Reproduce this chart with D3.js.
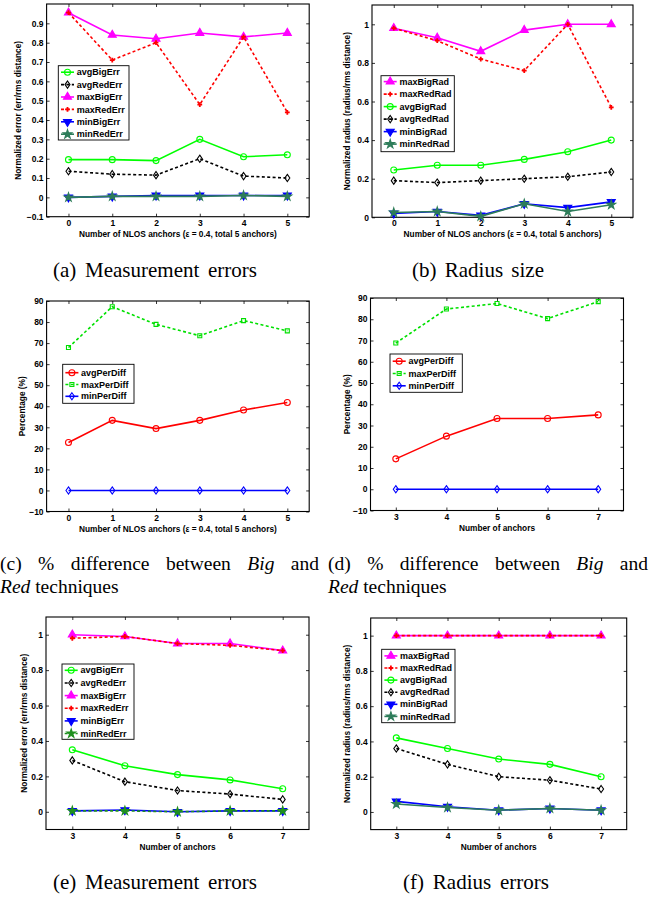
<!DOCTYPE html>
<html>
<head>
<meta charset="utf-8">
<script src="https://cdn.jsdelivr.net/npm/d3@7"></script>
<style>
  body { margin: 0; background: #fff; }
  svg { display: block; }
</style>
</head>
<body>
<div id="container"></div>
<script>
/* DATA */
const xNlos = [0, 1, 2, 3, 4, 5];
const xAnchors = [3, 4, 5, 6, 7];

// (a) measurement errors vs NLOS anchors
const aAvgBigErr = [0.195, 0.195, 0.19, 0.30, 0.21, 0.22];
const aAvgRedErr = [0.135, 0.12, 0.115, 0.20, 0.11, 0.10];
const aMaxBigErr = [0.955, 0.84, 0.82, 0.85, 0.83, 0.85];
const aMaxRedErr = [0.955, 0.71, 0.80, 0.48, 0.83, 0.44];
const aMinBigErr = [0.0, 0.005, 0.01, 0.01, 0.01, 0.01];
const aMinRedErr = [0.0, 0.005, 0.005, 0.005, 0.01, 0.005];

// (b) radius size vs NLOS anchors
const bMaxBigRad = [0.98, 0.93, 0.86, 0.97, 1.0, 1.0];
const bMaxRedRad = [0.98, 0.915, 0.82, 0.76, 1.0, 0.57];
const bAvgBigRad = [0.245, 0.27, 0.27, 0.30, 0.34, 0.40];
const bAvgRedRad = [0.19, 0.18, 0.19, 0.20, 0.21, 0.235];
const bMinBigRad = [0.02, 0.03, 0.01, 0.07, 0.05, 0.08];
const bMinRedRad = [0.025, 0.03, 0.005, 0.07, 0.03, 0.065];

// (c) % difference vs NLOS anchors
const cAvgPerDiff = [22.8, 33.3, 29.4, 33.3, 38.2, 41.8];
const cMaxPerDiff = [67.9, 87.3, 78.9, 73.5, 80.7, 75.8];
const cMinPerDiff = [0, 0, 0, 0, 0, 0];

// (d) % difference vs number of anchors
const dAvgPerDiff = [14.3, 25, 33.3, 33.3, 35];
const dMaxPerDiff = [68.8, 84.8, 87.4, 80.3, 88.3];
const dMinPerDiff = [0, 0, 0, 0, 0];

// (e) measurement errors vs number of anchors
const eAvgBigErr = [0.35, 0.26, 0.21, 0.18, 0.13];
const eAvgRedErr = [0.29, 0.17, 0.12, 0.10, 0.07];
const eMaxBigErr = [1.0, 0.99, 0.95, 0.95, 0.91];
const eMaxRedErr = [0.98, 0.99, 0.95, 0.94, 0.91];
const eMinBigErr = [0.005, 0.01, 0.0, 0.005, 0.005];
const eMinRedErr = [0.005, 0.005, 0.0, 0.005, 0.005];

// (f) radius errors vs number of anchors
const fMaxBigRad = [1, 1, 1, 1, 1];
const fMaxRedRad = [1, 1, 1, 1, 1];
const fAvgBigRad = [0.42, 0.36, 0.30, 0.27, 0.20];
const fAvgRedRad = [0.36, 0.27, 0.20, 0.18, 0.13];
const fMinBigRad = [0.06, 0.03, 0.01, 0.02, 0.01];
const fMinRedRad = [0.045, 0.025, 0.01, 0.02, 0.01];

// tick values
const ticksErrA = [-0.1, 0, 0.1, 0.2, 0.3, 0.4, 0.5, 0.6, 0.7, 0.8, 0.9];
const ticksUnit = [0, 0.2, 0.4, 0.6, 0.8, 1];
const ticksPct = [-10, 0, 10, 20, 30, 40, 50, 60, 70, 80, 90];

const xLabelNlos = "Number of NLOS anchors (\u03b5 = 0.4, total 5 anchors)";
const xLabelAnchors = "Number of anchors";
const yLabelErr = "Normalized error (err/rms distance)";
const yLabelRad = "Normalized radius (radius/rms distance)";
const yLabelPct = "Percentage (%)";

/* STYLE */
const GREEN = "#00ff00", BLACK = "#000", MAGENTA = "#ff00ff", RED = "#ff0000",
  BLUE = "#0000ff", TEAL = "#2e7d5a", DKGREEN = "#1f8f1f", PGREEN = "#00e000";
const DOT = "3,2.4";
const FONT = "Liberation Sans, Arial, Helvetica, sans-serif";
const SERIF = "Liberation Serif, Times New Roman, serif";

const svg = d3.select("#container")
  .append("svg")
  .attr("width", 651)
  .attr("height", 897)
  .style("background-color", "#fff");

const fmt = d => (d < 0 ? "\u2212" : "") + String(+Math.abs(d).toFixed(2));

function markerPath(type) {
  switch (type) {
    case "circle": return d3.symbol(d3.symbolCircle, 28)();
    case "diamond": return "M0,-3.6L2.5,0L0,3.6L-2.5,0Z";
    case "triUp": return d3.symbol(d3.symbolTriangle, 28)();
    case "triDown": return d3.symbol(d3.symbolTriangle, 28)();
    case "star": return d3.symbol(d3.symbolStar, 24)();
    case "plus": return "M-2.4,0H2.4M0,-2.4V2.4";
    case "square": return d3.symbol(d3.symbolSquare, 16)();
  }
}
const filledMarkers = ["triUp", "triDown", "star"];

function drawMarker(g, type, color, cx, cy) {
  g.append("path")
    .attr("d", markerPath(type))
    .attr("transform", `translate(${cx},${cy})` + (type === "triDown" ? " rotate(180)" : ""))
    .attr("fill", filledMarkers.includes(type) ? color : "none")
    .attr("stroke", color)
    .attr("stroke-width", type === "plus" ? 1.8 : 1.1);
}

function drawPanel(p) {
  const g = svg.append("g");
  const x = d3.scaleLinear().domain(p.xDomain).range([p.box.l, p.box.r]);
  const y = d3.scaleLinear().domain(p.yDomain).range([p.box.b, p.box.t]);

  // AXES (ticks point inward, MATLAB style box)
  const axB = g.append("g").attr("transform", `translate(0,${p.box.b})`)
    .call(d3.axisBottom(x).tickValues(p.xTicks).tickSize(-3).tickPadding(3).tickFormat(d3.format("d")));
  const axL = g.append("g").attr("transform", `translate(${p.box.l},0)`)
    .call(d3.axisLeft(y).tickValues(p.yTicks).tickSize(-3).tickPadding(3).tickFormat(fmt));
  const axT = g.append("g").attr("transform", `translate(0,${p.box.t})`)
    .call(d3.axisTop(x).tickValues(p.xTicks).tickSize(-3).tickFormat(""));
  const axR = g.append("g").attr("transform", `translate(${p.box.r},0)`)
    .call(d3.axisRight(y).tickValues(p.yTicks).tickSize(-3).tickFormat(""));
  [axB, axL, axT, axR].forEach(a => {
    a.select(".domain").remove();
    a.attr("font-family", FONT).attr("font-size", 8.5).attr("font-weight", "bold");
    a.selectAll("line").attr("stroke", "#000").attr("stroke-width", 0.8);
    a.selectAll("text").attr("fill", "#000");
  });

  g.append("rect")
    .attr("x", p.box.l).attr("y", p.box.t)
    .attr("width", p.box.r - p.box.l).attr("height", p.box.b - p.box.t)
    .attr("fill", "none").attr("stroke", "#000").attr("stroke-width", 1.1);

  // AXIS LABELS
  g.append("text")
    .attr("x", (p.box.l + p.box.r) / 2).attr("y", p.box.b + 20)
    .attr("text-anchor", "middle")
    .attr("font-family", FONT).attr("font-size", 8.3).attr("font-weight", "bold")
    .text(p.xLabel);
  g.append("text")
    .attr("transform", `translate(${p.yLabelX},${(p.box.t + p.box.b) / 2}) rotate(-90)`)
    .attr("text-anchor", "middle").attr("dy", "0.35em")
    .attr("font-family", FONT).attr("font-size", 8.3).attr("font-weight", "bold")
    .text(p.yLabel);

  // LINES AND MARKERS
  p.series.forEach(s => {
    const lineGen = d3.line().x((d, i) => x(p.xs[i])).y(d => y(d));
    g.append("path")
      .attr("d", lineGen(s.values))
      .attr("fill", "none")
      .attr("stroke", s.color)
      .attr("stroke-width", 1.6)
      .attr("stroke-dasharray", s.dash ? DOT : null);
    s.values.forEach((v, i) => drawMarker(g, s.marker, s.color, x(p.xs[i]), y(v)));
  });

  // LEGEND
  const L = p.legend;
  const lg = g.append("g");
  lg.append("rect")
    .attr("x", L.x).attr("y", L.y).attr("width", L.w).attr("height", L.h)
    .attr("fill", "#fff").attr("stroke", "#000").attr("stroke-width", 0.9);
  p.series.forEach((s, i) => {
    const ry = L.row0 + i * L.step;
    lg.append("line")
      .attr("x1", L.x + 2.7).attr("x2", L.x + 15.7).attr("y1", ry).attr("y2", ry)
      .attr("stroke", s.color).attr("stroke-width", 1.6)
      .attr("stroke-dasharray", s.dash ? DOT : null);
    drawMarker(lg, s.marker, s.color, L.x + 9.2, ry);
    lg.append("text")
      .attr("x", L.x + 18.4).attr("y", ry).attr("dy", "0.35em")
      .attr("font-family", FONT).attr("font-size", 9).attr("font-weight", "bold")
      .text(s.name);
  });
}

/* PANELS */
drawPanel({
  box: {l: 46.6, r: 309.2, t: 4, b: 216.7},
  xDomain: [-0.5, 5.5], yDomain: [-0.1, 1.0], xs: xNlos,
  xTicks: xNlos, yTicks: ticksErrA,
  xLabel: xLabelNlos, yLabel: yLabelErr, yLabelX: 18.5,
  legend: {x: 58.3, y: 65.7, w: 70.7, h: 74.3, row0: 72.2, step: 12.4},
  series: [
    {name: "avgBigErr", values: aAvgBigErr, color: GREEN, marker: "circle"},
    {name: "avgRedErr", values: aAvgRedErr, color: BLACK, marker: "diamond", dash: true},
    {name: "maxBigErr", values: aMaxBigErr, color: MAGENTA, marker: "triUp"},
    {name: "maxRedErr", values: aMaxRedErr, color: RED, marker: "plus", dash: true},
    {name: "minBigErr", values: aMinBigErr, color: BLUE, marker: "triDown"},
    {name: "minRedErr", values: aMinRedErr, color: TEAL, marker: "star"}
  ]
});

drawPanel({
  box: {l: 372, r: 633, t: 5, b: 217.3},
  xDomain: [-0.5, 5.5], yDomain: [0, 1.1], xs: xNlos,
  xTicks: xNlos, yTicks: ticksUnit,
  xLabel: xLabelNlos, yLabel: yLabelRad, yLabelX: 346.7,
  legend: {x: 381, y: 75.7, w: 73.3, h: 76, row0: 81.6, step: 12.5},
  series: [
    {name: "maxBigRad", values: bMaxBigRad, color: MAGENTA, marker: "triUp"},
    {name: "maxRedRad", values: bMaxRedRad, color: RED, marker: "plus", dash: true},
    {name: "avgBigRad", values: bAvgBigRad, color: GREEN, marker: "circle"},
    {name: "avgRedRad", values: bAvgRedRad, color: BLACK, marker: "diamond", dash: true},
    {name: "minBigRad", values: bMinBigRad, color: BLUE, marker: "triDown"},
    {name: "minRedRad", values: bMinRedRad, color: TEAL, marker: "star"}
  ]
});

drawPanel({
  box: {l: 46.6, r: 309.2, t: 301, b: 511.5},
  xDomain: [-0.5, 5.5], yDomain: [-10, 90], xs: xNlos,
  xTicks: xNlos, yTicks: ticksPct,
  xLabel: xLabelNlos, yLabel: yLabelPct, yLabelX: 21.7,
  legend: {x: 62.7, y: 364.3, w: 71.3, h: 39, row0: 372.7, step: 11.8},
  series: [
    {name: "avgPerDiff", values: cAvgPerDiff, color: RED, marker: "circle"},
    {name: "maxPerDiff", values: cMaxPerDiff, color: PGREEN, marker: "square", dash: true},
    {name: "minPerDiff", values: cMinPerDiff, color: BLUE, marker: "diamond"}
  ]
});

drawPanel({
  box: {l: 370.5, r: 623.5, t: 298, b: 510.5},
  xDomain: [2.5, 7.5], yDomain: [-10, 90], xs: xAnchors,
  xTicks: xAnchors, yTicks: ticksPct,
  xLabel: xLabelAnchors, yLabel: yLabelPct, yLabelX: 346.7,
  legend: {x: 390, y: 354, w: 72.3, h: 38.3, row0: 361.2, step: 12.3},
  series: [
    {name: "avgPerDiff", values: dAvgPerDiff, color: RED, marker: "circle"},
    {name: "maxPerDiff", values: dMaxPerDiff, color: PGREEN, marker: "square", dash: true},
    {name: "minPerDiff", values: dMinPerDiff, color: BLUE, marker: "diamond"}
  ]
});

drawPanel({
  box: {l: 46, r: 309, t: 617, b: 829.5},
  xDomain: [2.5, 7.5], yDomain: [-0.1, 1.1], xs: xAnchors,
  xTicks: xAnchors, yTicks: ticksUnit,
  xLabel: xLabelAnchors, yLabel: yLabelErr, yLabelX: 24,
  legend: {x: 62, y: 664, w: 72, h: 75.3, row0: 670.3, step: 12.65},
  series: [
    {name: "avgBigErr", values: eAvgBigErr, color: GREEN, marker: "circle"},
    {name: "avgRedErr", values: eAvgRedErr, color: BLACK, marker: "diamond", dash: true},
    {name: "maxBigErr", values: eMaxBigErr, color: MAGENTA, marker: "triUp"},
    {name: "maxRedErr", values: eMaxRedErr, color: RED, marker: "plus", dash: true},
    {name: "minBigErr", values: eMinBigErr, color: BLUE, marker: "triDown"},
    {name: "minRedErr", values: eMinRedErr, color: DKGREEN, marker: "star", dash: true}
  ]
});

drawPanel({
  box: {l: 370.7, r: 626.7, t: 618, b: 829.6},
  xDomain: [2.5, 7.5], yDomain: [-0.1, 1.1], xs: xAnchors,
  xTicks: xAnchors, yTicks: ticksUnit,
  xLabel: xLabelAnchors, yLabel: yLabelRad, yLabelX: 347.5,
  legend: {x: 381.7, y: 649.3, w: 73.3, h: 73.4, row0: 655.9, step: 12.1},
  series: [
    {name: "maxBigRad", values: fMaxBigRad, color: MAGENTA, marker: "triUp"},
    {name: "maxRedRad", values: fMaxRedRad, color: RED, marker: "plus", dash: true},
    {name: "avgBigRad", values: fAvgBigRad, color: GREEN, marker: "circle"},
    {name: "avgRedRad", values: fAvgRedRad, color: BLACK, marker: "diamond", dash: true},
    {name: "minBigRad", values: fMinBigRad, color: BLUE, marker: "triDown"},
    {name: "minRedRad", values: fMinRedRad, color: TEAL, marker: "star"}
  ]
});

/* CAPTIONS: justified by widening the word gaps only */
function caption(x, y, target, parts, size = 21) {
  const t = svg.append("text")
    .attr("x", x).attr("y", y)
    .attr("font-family", SERIF).attr("font-size", size);
  parts.forEach(pt => t.append("tspan")
    .attr("font-style", pt.it ? "italic" : null)
    .text(pt.s));
  const natural = t.node().getComputedTextLength();
  const gaps = parts.map(pt => pt.s).join("").split(" ").length - 1;
  if (gaps > 0 && target > natural) t.attr("word-spacing", (target - natural) / gaps);
}
caption(53, 277, 204, [{s: "(a) Measurement errors"}]);
caption(412, 277, 132, [{s: "(b) Radius size"}]);
caption(0, 570, 319, [{s: "(c) % difference between "}, {s: "Big", it: true}, {s: " and"}], 19.5);
caption(0, 593, 0, [{s: "Red", it: true}, {s: " techniques"}], 19.5);
caption(328, 570, 320, [{s: "(d) % difference between "}, {s: "Big", it: true}, {s: " and"}], 19.5);
caption(328, 593, 0, [{s: "Red", it: true}, {s: " techniques"}], 19.5);
caption(53, 888.5, 204, [{s: "(e) Measurement errors"}]);
caption(403, 888.5, 146, [{s: "(f) Radius errors"}]);
</script>
</body>
</html>
